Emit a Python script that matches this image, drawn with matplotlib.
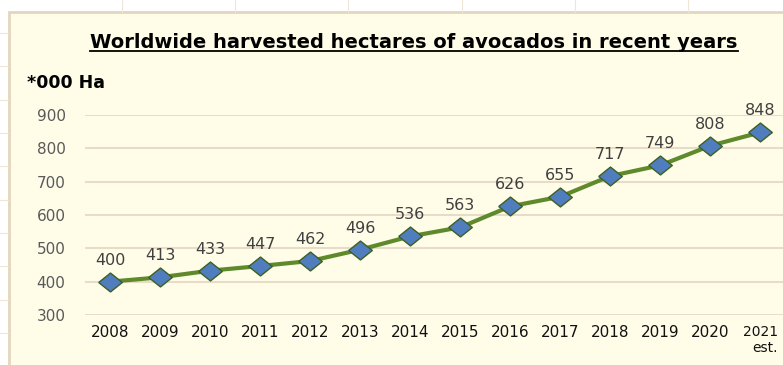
import numpy as np
import matplotlib
matplotlib.use("Agg")
import matplotlib.pyplot as plt
from matplotlib.patches import Rectangle
from matplotlib.lines import Line2D

years = ['2008', '2009', '2010', '2011', '2012', '2013', '2014',
         '2015', '2016', '2017', '2018', '2019', '2020', '2021\nest.']
hectares = [400, 413, 433, 447, 462, 496, 536, 563, 626, 655, 717, 749, 808, 848]
yticks = [300, 400, 500, 600, 700, 800, 900]

bg = '#FFFDE8'
grid_col = '#E8DCC8'
line_col = '#5E8A2C'
marker_col = '#4F7DBD'

W, H = 783, 365
fig = plt.figure(figsize=(W / 100, H / 100), dpi=100)
fig.patch.set_facecolor('white')

# excel-ish sheet lines outside the chart
for xv in [122, 235, 348, 462, 575, 688]:
    fig.add_artist(Line2D([xv / W, xv / W], [1 - 12 / H, 1], color='#EFE6D8', lw=0.8))
for yv in [33, 66, 100, 133, 166, 200, 233, 266, 300, 333]:
    fig.add_artist(Line2D([0, 8 / W], [1 - yv / H, 1 - yv / H], color='#EFE6D8', lw=0.8))

# chart frame
fig.add_artist(Rectangle((9 / W, -0.01), 1.0, 1 - 12 / H + 0.01, transform=fig.transFigure,
                         facecolor=bg, edgecolor='#E3D6BF', lw=2, zorder=0))

ax = fig.add_axes([85 / W, (H - 315) / H, (W - 85) / W, 200 / H])
ax.set_facecolor(bg)
ax.patch.set_alpha(0)

x = np.arange(len(years))
ax.set_xlim(-0.5, 13.45)
ax.set_ylim(300, 900)

for t in yticks:
    ax.axhline(t, color=grid_col, lw=1.5, zorder=1)

diamond = [(-1, 0), (0, 0.8), (1, 0), (0, -0.8), (-1, 0)]
ax.plot(x, hectares, color=line_col, lw=3, zorder=3, clip_on=False)
ax.plot(x, hectares, linestyle='none', marker=diamond, markersize=17,
        markerfacecolor=marker_col, markeredgecolor='#3E5F22', markeredgewidth=1,
        zorder=4, clip_on=False)

for xi, v in zip(x, hectares):
    ax.annotate(str(v), (xi, v), xytext=(0, 10), textcoords='offset points',
                ha='center', va='bottom', fontsize=11.5, color='#404040')

for s in ax.spines.values():
    s.set_visible(False)
ax.set_yticks(yticks)
ax.set_yticklabels([str(t) for t in yticks], fontsize=11, color='#595959')
ax.set_xticks(x)
ax.set_xticklabels(years, fontsize=11, color='#111111', multialignment='right')
ax.tick_params(axis='both', length=0)
ax.tick_params(axis='y', pad=14)
ax.tick_params(axis='x', pad=7)
labs = ax.get_xticklabels()
labs[-1].set_fontsize(10)

fig.text(27 / W, 1 - 83 / H, '*000 Ha', fontsize=12.5, fontweight='bold',
         color='black', va='center', ha='left')

title = fig.text(414 / W, 1 - 42 / H, 'Worldwide harvested hectares of avocados in recent years',
                 fontsize=14, fontweight='bold', color='black', ha='center', va='center')

# underline the title
fig.canvas.draw()
bb = title.get_window_extent(renderer=fig.canvas.get_renderer())
uy = (bb.y0 + 1) / fig.bbox.height
fig.add_artist(Line2D([bb.x0 / fig.bbox.width, bb.x1 / fig.bbox.width], [uy, uy],
                      color='black', lw=1.3))

fig.savefig('out.png', dpi=100, facecolor=fig.get_facecolor())
